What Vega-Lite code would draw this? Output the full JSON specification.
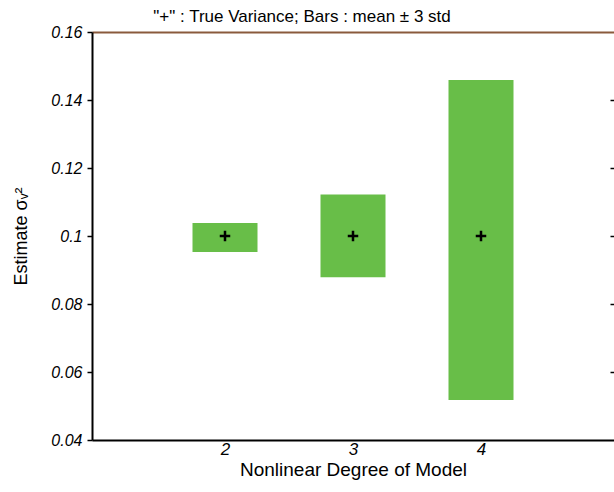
{
  "$schema": "https://vega.github.io/schema/vega-lite/v6.json",
  "width": 522,
  "height": 408,
  "autosize": {"type": "none"},
  "padding": {"left": 92, "top": 32, "right": 0, "bottom": 52},
  "background": "white",
  "title": {"text": "\"+\" : True Variance; Bars : mean ± 3 std", "font": "Liberation Sans", "fontSize": 17, "fontWeight": "normal", "color": "black", "offset": -2, "dx": -51},
  "config": {
    "view": {"stroke": null},
    "axis": {"labelFont": "Liberation Sans", "labelFontStyle": "italic", "labelFontSize": 16, "labelColor": "black", "titleFont": "Liberation Sans", "titleFontWeight": "normal", "titleFontSize": 18, "titleColor": "black"}
  },
  "data": {"values": [
    {"degree": 2, "lo": 0.0953, "hi": 0.1038, "truth": 0.1},
    {"degree": 3, "lo": 0.0879, "hi": 0.1122, "truth": 0.1},
    {"degree": 4, "lo": 0.0518, "hi": 0.1459, "truth": 0.1}
  ]},
  "layer": [
    {
      "mark": {"type": "bar", "color": "#68BE48", "size": 65},
      "encoding": {
        "x": {"field": "degree", "type": "quantitative", "scale": {"domain": [1, 5], "nice": false, "zero": false},
          "axis": {"orient": "bottom", "values": [2, 3, 4], "format": "d", "grid": false, "ticks": false, "domainColor": "black", "domainWidth": 2, "labelPadding": 1, "labelFontSize": 17, "title": "Nonlinear Degree of Model", "titleFontSize": 19, "titlePadding": 3}},
        "y": {"field": "lo", "type": "quantitative", "scale": {"domain": [0.04, 0.16], "nice": false, "zero": false},
          "axis": {"orient": "left", "values": [0.04, 0.06, 0.08, 0.1, 0.12, 0.14, 0.16], "format": "~g", "grid": false, "tickSize": 5, "tickColor": "black", "tickWidth": 1.5, "domainColor": "black", "domainWidth": 2, "labelPadding": 5, "title": "Estimate σᵥ²", "titleX": -62, "titleY": 204}},
        "y2": {"field": "hi"}
      }
    },
    {
      "mark": {"type": "point", "shape": "M-1,0L1,0M0,-1L0,1", "filled": false, "stroke": "black", "strokeWidth": 2.5, "size": 110, "opacity": 1},
      "encoding": {
        "x": {"field": "degree", "type": "quantitative",
          "axis": {"orient": "top", "labels": false, "ticks": false, "title": null, "grid": false, "domainColor": "#8a5a3c", "domainWidth": 2, "minExtent": 0, "maxExtent": 0}},
        "y": {"field": "truth", "type": "quantitative",
          "axis": {"orient": "right", "labels": false, "domain": false, "grid": false, "tickSize": -4, "tickColor": "black", "tickWidth": 1.5, "title": null, "values": [0.06, 0.08, 0.1, 0.12, 0.14]}}
      }
    }
  ],
  "resolve": {"axis": {"x": "independent", "y": "independent"}}
}
